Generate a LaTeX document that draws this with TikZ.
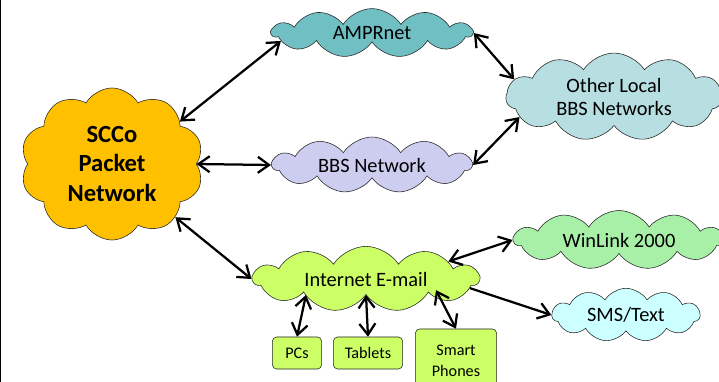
\documentclass[tikz,border=0pt]{standalone}
\usepackage{fontspec}
\setmainfont{Carlito}
\usetikzlibrary{shapes.symbols,arrows.meta}

\definecolor{sccogold}{HTML}{FFC000}
\definecolor{amprteal}{HTML}{70BFC3}
\definecolor{otherblue}{HTML}{B7DEE1}
\definecolor{bbslav}{HTML}{CDCDF0}
\definecolor{inetlime}{HTML}{CCFF66}
\definecolor{winlgreen}{HTML}{A8EFA8}
\definecolor{smscyan}{HTML}{CCFFFF}

\begin{document}
\begin{tikzpicture}[x=0.025cm,y=-0.025cm,
    net/.style={cloud, draw=black!85, cloud puffs=11, cloud puff arc=115,
        inner sep=0pt, align=center, font=\fontsize{14.5}{17}\selectfont},
    dev/.style={draw=black!85, rounded corners=3pt, fill=inetlime, inner sep=0pt,
        align=center, font=\fontsize{11.5}{15}\selectfont},
    link/.style={<->, >={Straight Barb[length=2.8mm,width=4mm]}, line width=1.6pt}]
    \useasboundingbox (0,0) rectangle (719,382);
    \draw[line width=1pt] (0.5,0) -- (0.5,382);

    % Main packet network
    \node[net, fill=sccogold, cloud puffs=10, cloud puff arc=120, aspect=1.2,
        minimum width=4.575cm, minimum height=3.8cm,
        font=\bfseries\fontsize{17.5}{21}\selectfont] (scco) at (112,164) {SCCo\\Packet\\Network};

    % Upper clouds
    \node[net, fill=amprteal, aspect=4.1, minimum width=5.0cm, minimum height=1.22cm] (ampr) at (372,33) {AMPRnet};
    \node[net, fill=bbslav, aspect=4.5, minimum width=4.98cm, minimum height=1.1cm] (bbs) at (372,165) {BBS Network};
    \node[net, fill=otherblue, aspect=2.5, minimum width=5.4cm, minimum height=2.17cm] (other) at (614,97) {Other Local\\BBS Networks};
    \draw[link] (scco.32) -- (ampr.185);
    \draw[link] (scco.east) -- (bbs.west);
    \draw[link] (ampr.east) -- (other.170);
    \draw[link] (bbs.east) -- (other.192);

    % E-mail side
    \node[net, fill=inetlime, aspect=4.35, minimum width=5.65cm, minimum height=1.3cm] (inet) at (366,279) {Internet E-mail};
    \node[net, fill=winlgreen, aspect=4.45, minimum width=5.25cm, minimum height=1.18cm] (winl) at (619,240) {WinLink 2000};
    \node[net, fill=smscyan, aspect=2.9, minimum width=3.7cm, minimum height=1.28cm] (sms) at (626,315) {SMS/Text};
    \draw[link] (scco.-40) -- (inet.west);
    \draw[link] (inet.12) -- (winl.west);
    \draw[link, <-] (sms.west) -- (inet.-5);

    % Devices
    \node[dev, minimum width=1.23cm, minimum height=0.8cm] (pcs) at (297,353) {PCs};
    \node[dev, minimum width=1.73cm, minimum height=0.8cm] (tabs) at (368,353) {Tablets};
    \node[dev, minimum width=2.03cm, minimum height=1.6cm] (phones) at (456,361) {Smart\\Phones};
    \draw[link] ([xshift=-1.5cm]inet.south) -- (pcs.north);
    \draw[link] (inet.south) -- (tabs.north);
    \draw[link] ([xshift=1.75cm,yshift=0.12cm]inet.south) -- (phones.north);
\end{tikzpicture}
\end{document}
